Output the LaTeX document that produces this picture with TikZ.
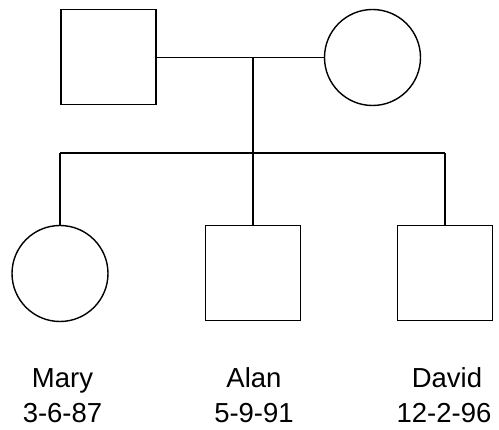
\documentclass[tikz,border=0pt]{standalone}
\usepackage{fontspec}
\setmainfont{Liberation Sans}
\begin{document}
\begin{tikzpicture}[x=1pt,y=-1pt,line width=1.4pt,
  male/.style={draw,rectangle,minimum size=95pt,inner sep=0pt},
  female/.style={draw,circle,minimum size=96pt,inner sep=0pt},
  lbl/.style={font=\fontsize{27.5}{35}\selectfont,inner sep=0pt,anchor=base}]
\useasboundingbox (0,0) rectangle (499,430);
\node[male] (father) at (108.5,57) {};
\node[female] (mother) at (372.5,57.5) {};
\node[female] (mary) at (60,273.5) {};
\node[male] (alan) at (253,273) {};
\node[male] (david) at (445,273) {};
\coordinate (m) at (253,57.5);
\coordinate (sibL) at (60,153);
\coordinate (sibR) at (445,153);
\draw (father.east |- m) -- (mother.west |- m);
\draw (m) -- (alan.north);
\draw (sibL) -- (sibR);
\draw (sibL) -- (mary.north);
\draw (sibR) -- (david.north);
\node[lbl] (maryname) at (62.5,388) {Mary};
\node[lbl] (marydate) at (62.5,423) {3-6-87};
\node[lbl] (alanname) at (254,388) {Alan};
\node[lbl] (alandate) at (254,423) {5-9-91};
\node[lbl] (davidname) at (447,388) {David};
\node[lbl] (daviddate) at (444,423) {12-2-96};
\end{tikzpicture}
\end{document}
